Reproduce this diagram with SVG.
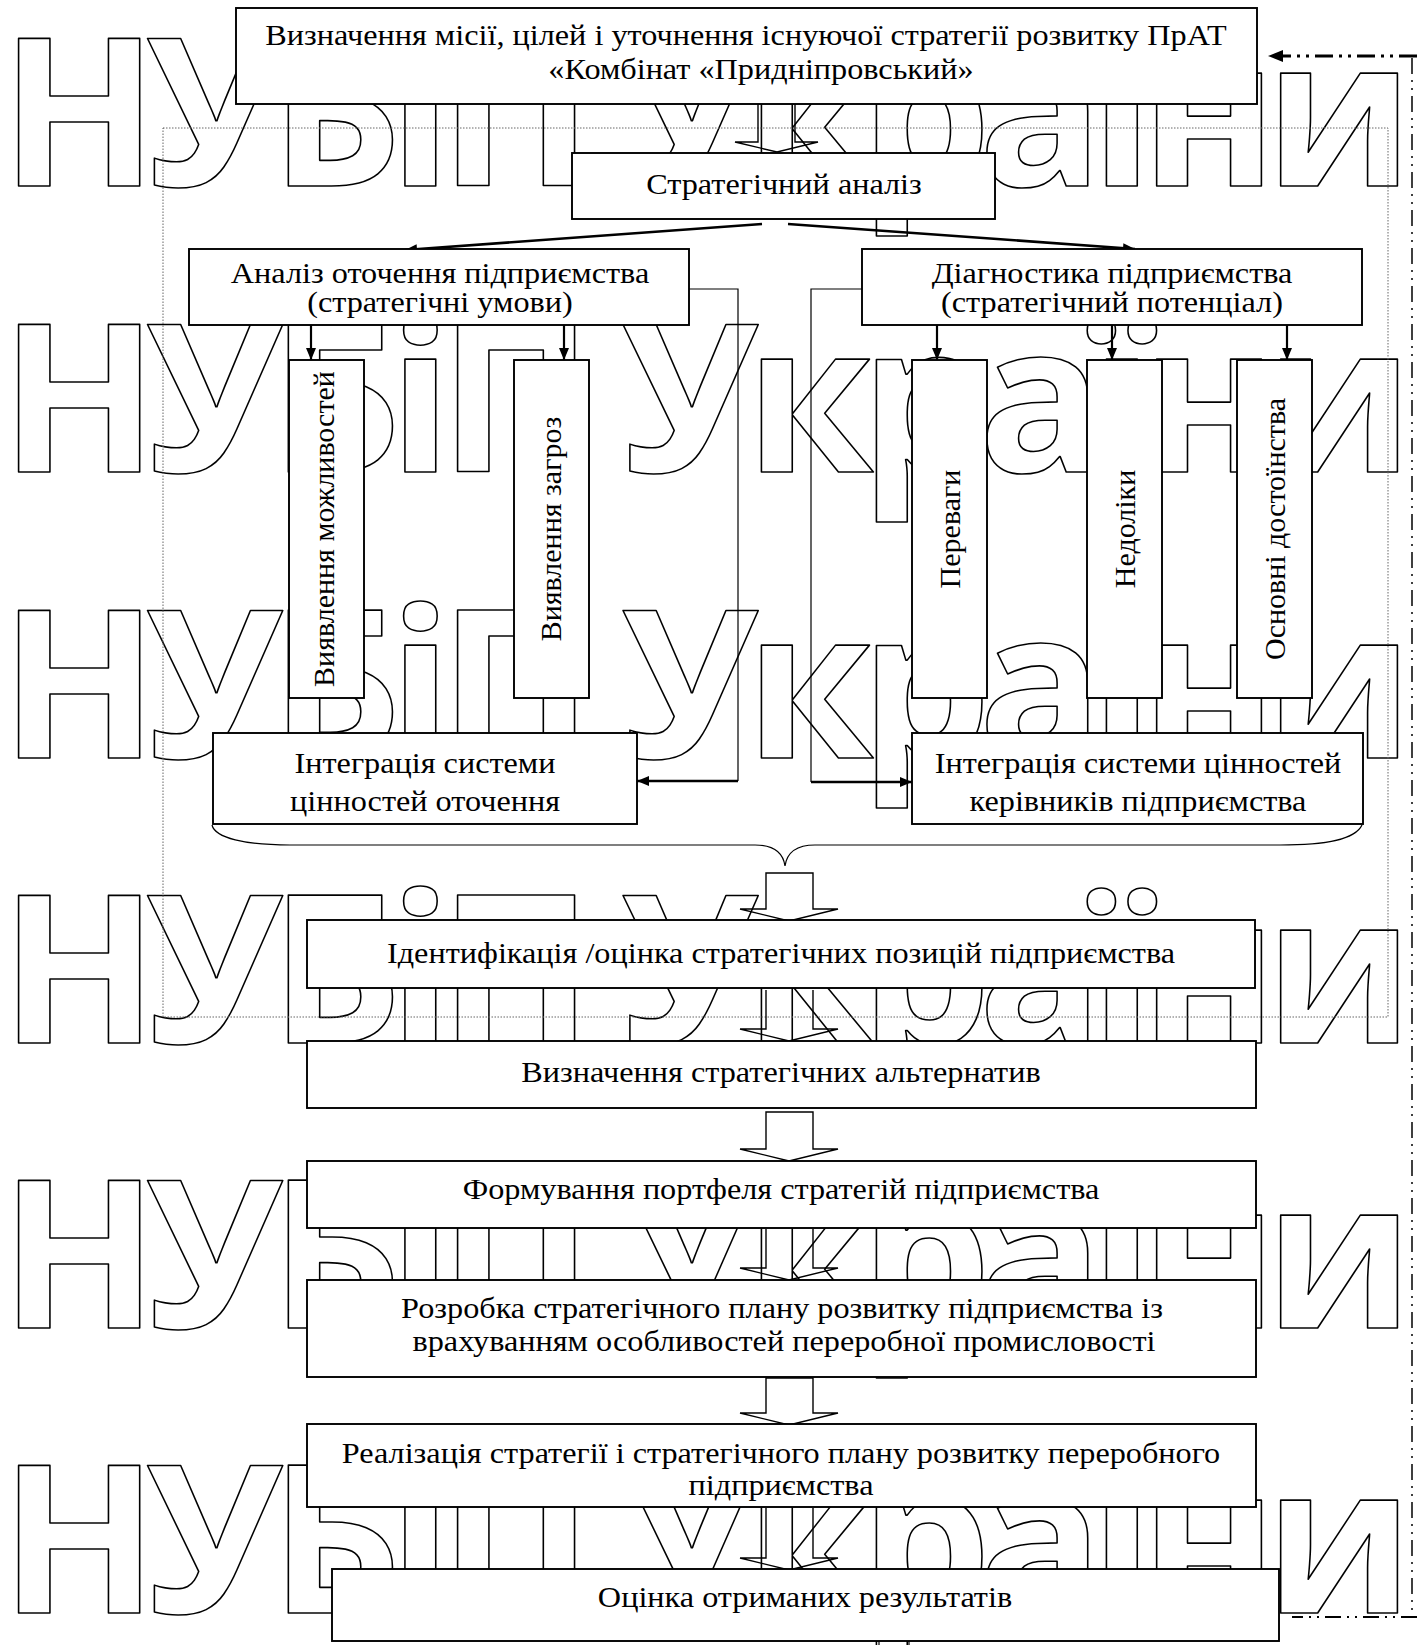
<svg xmlns="http://www.w3.org/2000/svg" width="1427" height="1645" viewBox="0 0 1427 1645">
<defs>
<style>
.wm{font-family:"Open Sans","Noto Sans",sans-serif;font-weight:700;font-size:207px;fill:none;stroke:#000;stroke-width:1.6;stroke-linejoin:round;letter-spacing:-13px}
.box{fill:#fff;stroke:#000;stroke-width:1.9}
.t{font-family:"Liberation Serif","Times New Roman",serif;font-size:30px;fill:#000;text-anchor:middle}
.ln{fill:none;stroke:#000;stroke-width:1.2}
.th{fill:none;stroke:#000;stroke-width:2.6}
.ar{fill:none;stroke:#000;stroke-width:2.2}
.hol{fill:none;stroke:#000;stroke-width:1.4;stroke-linejoin:miter}
.dd{fill:none;stroke:#000}
</style>
<marker id="ah" viewBox="0 0 12 10" refX="12" refY="5" markerWidth="12" markerHeight="10" markerUnits="userSpaceOnUse" orient="auto">
<path d="M0,0 L12,5 L0,10 Z" fill="#000"/>
</marker>
<marker id="ah2" viewBox="0 0 15 12" refX="15" refY="6" markerWidth="15" markerHeight="12" markerUnits="userSpaceOnUse" orient="auto">
<path d="M0,0 L15,6 L0,12 Z" fill="#000"/>
</marker>
</defs>
<rect width="1427" height="1645" fill="#fff"/>
<g id="watermark">
<text class="wm" x="0" y="186">НУБіП України</text>
<text class="wm" x="0" y="472">НУБіП України</text>
<text class="wm" x="0" y="758">НУБіП України</text>
<text class="wm" x="0" y="1043">НУБіП України</text>
<text class="wm" x="0" y="1328">НУБіП України</text>
<text class="wm" x="0" y="1613">НУБіП України</text>
</g>
<rect id="frame" x="163" y="128" width="1225" height="889" fill="none" stroke="#666" stroke-width="1" stroke-dasharray="1.5 1.5"/>
<g id="connectors">
<path class="th" d="M762,224 L405,250" marker-end="url(#ah)"/>
<path class="th" d="M788,224 L1135,249" marker-end="url(#ah)"/>
<path class="ar" d="M311,325 V360" marker-end="url(#ah)"/>
<path class="ar" d="M564,325 V360" marker-end="url(#ah)"/>
<path class="ar" d="M937,325 V360" marker-end="url(#ah)"/>
<path class="ar" d="M1112,325 V360" marker-end="url(#ah)"/>
<path class="ar" d="M1287,325 V360" marker-end="url(#ah)"/>
<path class="ln" d="M689,289 H738 V781"/>
<path class="th" d="M738,781 H637" marker-end="url(#ah)"/>
<path class="ln" d="M862,289 H811 V782"/>
<path class="th" d="M811,782 H912" marker-end="url(#ah)"/>
<path class="ln" d="M212,825 C215,838 245,845 290,845 L755,845 C772,845 783,852 785,866 C787,852 798,845 815,845 L1280,845 C1325,845 1355,840 1362,825"/>
<path class="hol" d="M758,104 V142 H735 L777,152 L818,142 H795 V104"/>
<path class="hol" d="M766,873 V909 H740 L789,921 L838,909 H813 V873 Z"/>
<path class="hol" d="M766,990 V1029 H740 L789,1041 L838,1029 H813 V990"/>
<path class="hol" d="M766,1112 V1149 H740 L789,1161 L838,1149 H813 V1112 Z"/>
<path class="hol" d="M766,1229 V1268 H740 L789,1280 L838,1268 H813 V1229"/>
<path class="hol" d="M766,1378 V1413 H740 L789,1425 L838,1413 H813 V1378 Z"/>
<path class="hol" d="M766,1508 V1558 H740 L789,1570 L838,1558 H813 V1508"/>
<path class="ln" d="M879,1641 V1645 M909,1641 V1645"/>
<path class="dd" stroke-width="3" stroke-dasharray="18 6 3 6 3 6" d="M1417,56 H1268" marker-end="url(#ah2)"/>
<path class="dd" stroke-width="1.5" stroke-dasharray="16 6 2 6 2 6" d="M1412,58 V1612"/>
<path class="dd" stroke-width="1.8" stroke-dasharray="16 6 2 6 2 6" d="M1417,1617 H1292"/>
</g>
<g id="n-mission">
<rect class="box" x="236" y="8" width="1021" height="96"/>
<text class="t" transform="matrix(1.075,0,0,1,746,0)" x="0" y="45">Визначення місії, цілей і уточнення існуючої стратегії розвитку ПрАТ</text>
<text class="t" transform="matrix(1.075,0,0,1,761,0)" x="0" y="79">«Комбінат «Придніпровський»</text>
</g>
<g id="n-strat">
<rect class="box" x="572" y="153" width="423" height="66"/>
<text class="t" transform="matrix(1.075,0,0,1,784,0)" x="0" y="194">Стратегічний аналіз</text>
</g>
<g id="n-env">
<rect class="box" x="189" y="249" width="500" height="76"/>
<text class="t" transform="matrix(1.075,0,0,1,440,0)" x="0" y="283">Аналіз оточення підприємства</text>
<text class="t" transform="matrix(1.075,0,0,1,440,0)" x="0" y="312">(стратегічні умови)</text>
</g>
<g id="n-diag">
<rect class="box" x="862" y="249" width="500" height="76"/>
<text class="t" transform="matrix(1.075,0,0,1,1112,0)" x="0" y="283">Діагностика підприємства</text>
<text class="t" transform="matrix(1.075,0,0,1,1112,0)" x="0" y="312">(стратегічний потенціал)</text>
</g>
<g id="n-opp">
<rect class="box" x="289" y="360" width="75" height="338"/>
<text class="t" transform="translate(324,529) rotate(-90)" x="0" y="10">Виявлення можливостей</text>
</g>
<g id="n-thr">
<rect class="box" x="514" y="360" width="75" height="338"/>
<text class="t" transform="translate(551,529) rotate(-90)" x="0" y="10">Виявлення загроз</text>
</g>
<g id="n-adv">
<rect class="box" x="912" y="360" width="75" height="338"/>
<text class="t" transform="translate(950,529) rotate(-90)" x="0" y="10">Переваги</text>
</g>
<g id="n-dis">
<rect class="box" x="1087" y="360" width="75" height="338"/>
<text class="t" transform="translate(1125,529) rotate(-90)" x="0" y="10">Недоліки</text>
</g>
<g id="n-core">
<rect class="box" x="1237" y="360" width="75" height="338"/>
<text class="t" transform="translate(1275,529) rotate(-90)" x="0" y="10">Основні достоїнства</text>
</g>
<g id="n-int1">
<rect class="box" x="213" y="733" width="424" height="91"/>
<text class="t" transform="matrix(1.075,0,0,1,425,0)" x="0" y="773">Інтеграція системи</text>
<text class="t" transform="matrix(1.075,0,0,1,425,0)" x="0" y="811">цінностей оточення</text>
</g>
<g id="n-int2">
<rect class="box" x="912" y="733" width="451" height="91"/>
<text class="t" transform="matrix(1.075,0,0,1,1138,0)" x="0" y="773">Інтеграція системи цінностей</text>
<text class="t" transform="matrix(1.075,0,0,1,1138,0)" x="0" y="811">керівників підприємства</text>
</g>
<g id="n-ident">
<rect class="box" x="307" y="920" width="948" height="68"/>
<text class="t" transform="matrix(1.075,0,0,1,781,0)" x="0" y="963">Ідентифікація /оцінка стратегічних позицій підприємства</text>
</g>
<g id="n-alt">
<rect class="box" x="307" y="1041" width="949" height="67"/>
<text class="t" transform="matrix(1.075,0,0,1,781,0)" x="0" y="1082">Визначення стратегічних альтернатив</text>
</g>
<g id="n-port">
<rect class="box" x="307" y="1161" width="949" height="67"/>
<text class="t" transform="matrix(1.075,0,0,1,781,0)" x="0" y="1199">Формування портфеля стратегій підприємства</text>
</g>
<g id="n-plan">
<rect class="box" x="307" y="1280" width="949" height="97"/>
<text class="t" transform="matrix(1.075,0,0,1,782,0)" x="0" y="1318">Розробка стратегічного плану розвитку підприємства із</text>
<text class="t" transform="matrix(1.075,0,0,1,784,0)" x="0" y="1351">врахуванням особливостей переробної промисловості</text>
</g>
<g id="n-impl">
<rect class="box" x="307" y="1424" width="949" height="83"/>
<text class="t" transform="matrix(1.075,0,0,1,781,0)" x="0" y="1463">Реалізація стратегії і стратегічного плану розвитку переробного</text>
<text class="t" transform="matrix(1.075,0,0,1,781,0)" x="0" y="1495">підприємства</text>
</g>
<g id="n-eval">
<rect class="box" x="332" y="1569" width="947" height="72"/>
<text class="t" transform="matrix(1.075,0,0,1,805,0)" x="0" y="1607">Оцінка отриманих результатів</text>
</g>
</svg>
